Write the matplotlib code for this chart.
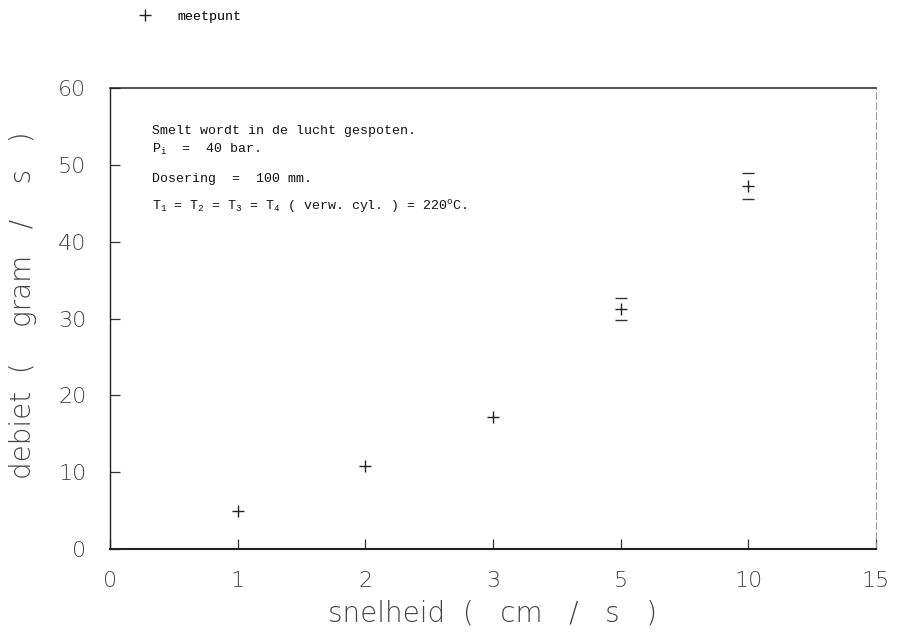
import matplotlib
matplotlib.use("Agg")
import matplotlib.pyplot as plt

# x axis is categorical: equally spaced labels
tick_labels = ['0', '1', '2', '3', '5', '10', '15']
snelheid = ['1', '2', '3', '5', '10']
debiet = [5.0, 10.8, 17.2, 31.2, 47.3]
fout = [0.0, 0.0, 0.0, 1.45, 1.7]

plt.rcParams['mathtext.fontset'] = 'custom'
plt.rcParams['mathtext.rm'] = 'Liberation Mono'
plt.rcParams['mathtext.it'] = 'Liberation Mono'

fig = plt.figure(figsize=(9.04, 6.4), dpi=100)
ax = fig.add_axes([0.1217, 0.142, 0.8473, 0.7205])

xpos = [tick_labels.index(s) for s in snelheid]
ax.plot(xpos, debiet, linestyle='none', marker='+', markersize=9,
        color='#222222', mew=1.0, label='meetpunt')
ex = [p for p, e in zip(xpos, fout) if e > 0]
ey = [d for d, e in zip(debiet, fout) if e > 0]
ee = [e for e in fout if e > 0]
ax.errorbar(ex, ey, yerr=ee, fmt='none', ecolor='#333333', elinewidth=0,
            capsize=4.5, capthick=1.0)

ax.set_xlim(0, 6)
ax.set_ylim(0, 60)
ax.set_xticks(range(len(tick_labels)))
ax.set_xticklabels(tick_labels)
ax.set_yticks(range(0, 61, 10))
ax.tick_params(direction='in', length=7, width=0.9, colors='#333333',
               labelsize=16, labelcolor='#444444')
ax.tick_params(axis='x', pad=16)
ax.tick_params(axis='y', pad=17)
for lab in ax.get_xticklabels() + ax.get_yticklabels():
    lab.set_fontweight('light')

ax.spines['right'].set_linestyle((0, (6, 3)))
ax.spines['right'].set_color('#999999')
ax.spines['right'].set_linewidth(0.8)
ax.spines['bottom'].set_linewidth(1.5)
ax.spines['top'].set_linewidth(1.1)
ax.spines['left'].set_linewidth(1.0)
for s in ['bottom', 'top', 'left']:
    ax.spines[s].set_color('#222222')

ax.set_xlabel('snelheid  (   cm   /   s   )', fontsize=20, color='#444444',
              fontweight='light', labelpad=6)
ax.set_ylabel('debiet  (    gram   /    s   )', fontsize=20, color='#444444',
              fontweight='light')
ax.yaxis.set_label_coords(-0.095, 0.53)

mono = dict(family='Liberation Mono', fontsize=9.5, color='#111111',
            transform=fig.transFigure)
fig.text(0.168, 1 - 131 / 640, 'Smelt wordt in de lucht gespoten.', va='center', **mono)
fig.text(0.168, 1 - 149 / 640, r'P$_{\rm i}$  =  40 bar.', va='center', **mono)
fig.text(0.168, 1 - 179 / 640, 'Dosering  =  100 mm.', va='center', **mono)
fig.text(0.168, 1 - 207 / 640,
         r'T$_1$ = T$_2$ = T$_3$ = T$_4$ ( verw. cyl. ) = 220$^{\rm o}$C.',
         va='center', **mono)

fig.legend(loc='center left', bbox_to_anchor=(0.1515, 1 - 17 / 640),
           frameon=False, handlelength=1.2, handletextpad=1.9,
           borderaxespad=0, borderpad=0,
           prop={'family': 'Liberation Mono', 'size': 9.5})

fig.savefig('out.png', dpi=100)
